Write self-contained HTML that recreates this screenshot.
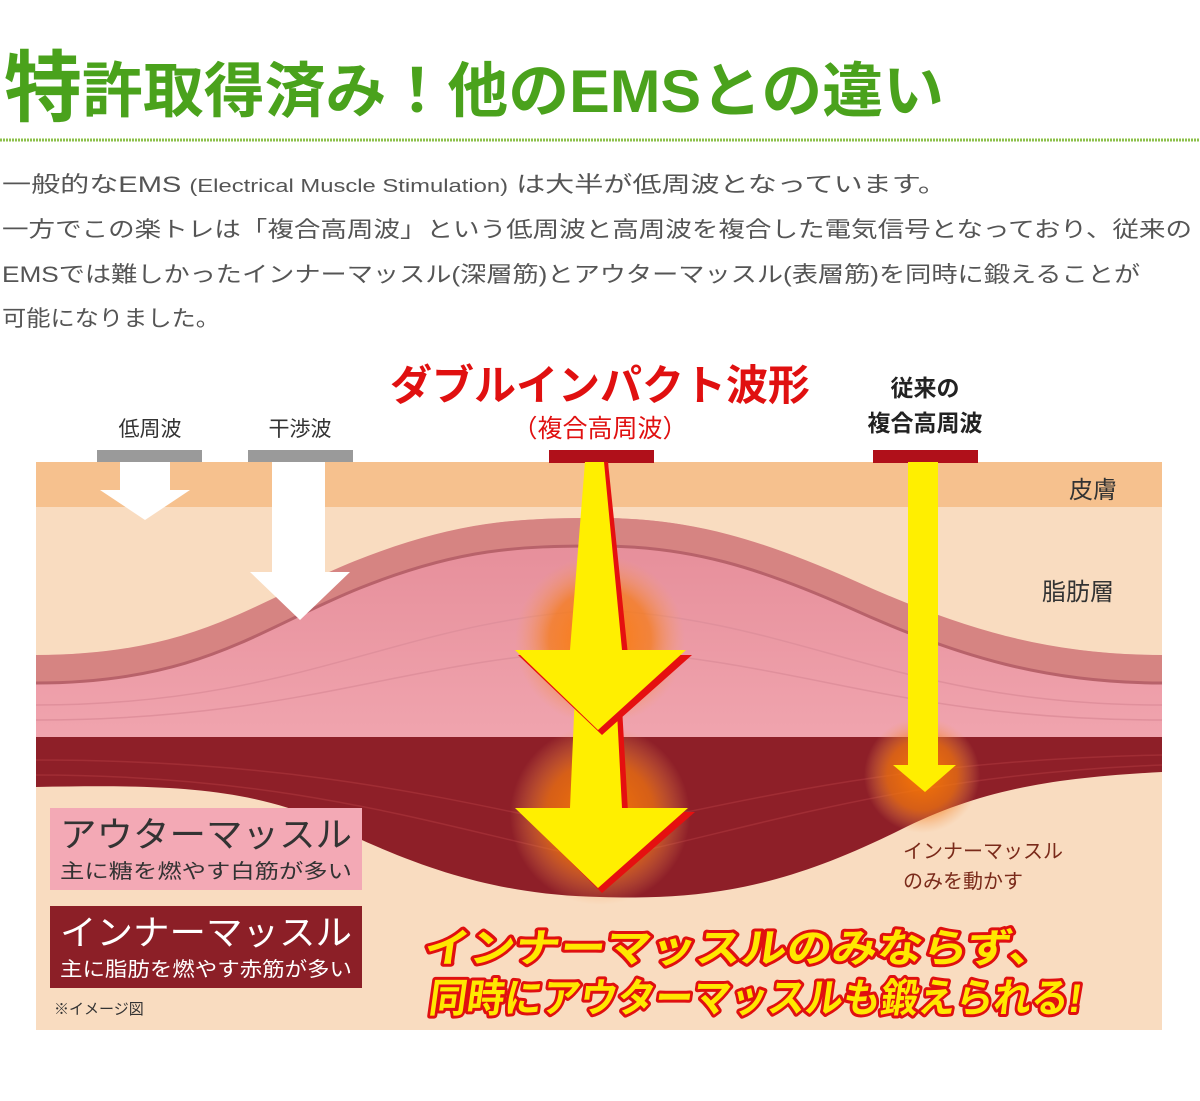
<!DOCTYPE html>
<html><head><meta charset="utf-8"><style>
body{margin:0;background:#fff;width:1200px;height:1096px;overflow:hidden}
svg text{font-family:"Liberation Sans","Noto Sans CJK JP",sans-serif}
</style></head><body>
<svg width="1200" height="1096" viewBox="0 0 1200 1096" xmlns="http://www.w3.org/2000/svg">
<defs>
<radialGradient id="g"><stop offset="0" stop-color="#ff7a00" stop-opacity=".95"/><stop offset=".6" stop-color="#f57a10" stop-opacity=".7"/><stop offset="1" stop-color="#f5a060" stop-opacity="0"/></radialGradient>
<linearGradient id="pk" x1="0" y1="0" x2="0" y2="1"><stop offset="0" stop-color="#e58c98"/><stop offset="1" stop-color="#f0a4ae"/></linearGradient>
</defs>
<!-- title -->
<text x="4" y="115" font-size="78" font-weight="bold" fill="#4aa21c">特</text>
<text x="82" y="112" font-size="60" font-weight="bold" fill="#4aa21c" textLength="862" lengthAdjust="spacingAndGlyphs">許取得済み！他のEMSとの違い</text>
<line x1="0" y1="140" x2="1200" y2="140" stroke="#8cc04a" stroke-width="3" stroke-dasharray="2 1"/>
<g font-size="22" fill="#555">
<text x="2" y="192" textLength="945" lengthAdjust="spacingAndGlyphs">一般的なEMS <tspan font-size="18">(Electrical Muscle Stimulation)</tspan> は大半が低周波となっています。</text>
<text x="2" y="237" textLength="1190" lengthAdjust="spacingAndGlyphs">一方でこの楽トレは「複合高周波」という低周波と高周波を複合した電気信号となっており、従来の</text>
<text x="2" y="282" textLength="1138" lengthAdjust="spacingAndGlyphs">EMSでは難しかったインナーマッスル(深層筋)とアウターマッスル(表層筋)を同時に鍛えることが</text>
<text x="2" y="326" textLength="218" lengthAdjust="spacingAndGlyphs">可能になりました。</text>
</g>
<!-- diagram -->
<rect x="36" y="462" width="1126" height="568" fill="#f9dcc0"/>
<rect x="36" y="462" width="1126" height="45" fill="#f6c18e"/>
<path d="M36 737 L1162 737 L1162 772 C1050 778 980 790 900 830 C780 890 700 900 600 897 C500 895 420 870 320 820 C240 785 150 785 36 787 Z" fill="#8e1f28"/>
<g stroke="#a8333a" stroke-width="1.5" fill="none" opacity=".7">
<path d="M36 760 C300 760 450 800 600 830 C750 800 900 760 1162 755"/>
<path d="M36 775 C300 775 450 830 600 860 C750 830 900 775 1162 765"/>
</g>
<path d="M36 655 C200 655 260 600 360 560 C460 520 520 518 600 518 C690 518 760 540 850 580 C960 630 1050 655 1162 655 L1162 737 L36 737 Z" fill="url(#pk)"/>
<path d="M36 655 C200 655 260 600 360 560 C460 520 520 518 600 518 C690 518 760 540 850 580 C960 630 1050 655 1162 655" fill="none" stroke="#d68482" stroke-width="28" transform="translate(0,14)"/>
<path d="M36 683 C200 683 260 628 360 588 C460 548 520 546 600 546 C690 546 760 568 850 608 C960 658 1050 683 1162 683" fill="none" stroke="#b8626a" stroke-width="3"/>
<g stroke="#e0909c" stroke-width="1.5" fill="none">
<path d="M36 705 C300 705 400 620 600 610 C800 620 900 705 1162 705"/>
<path d="M36 720 C300 720 400 660 600 650 C800 660 900 720 1162 720"/>
</g>
<circle cx="600" cy="640" r="85" fill="url(#g)"/>
<circle cx="600" cy="815" r="90" fill="url(#g)"/>
<circle cx="922" cy="775" r="58" fill="url(#g)"/>
<rect x="97" y="450" width="105" height="12" fill="#9a9a9a"/>
<rect x="248" y="450" width="105" height="12" fill="#9a9a9a"/>
<rect x="549" y="450" width="105" height="13" fill="#b0101a"/>
<rect x="873" y="450" width="105" height="13" fill="#b0101a"/>
<polygon points="120,462 170,462 170,490 190,490 145,520 100,490 120,490" fill="#fff"/>
<polygon points="272,462 325,462 325,572 350,572 300,620 250,572 272,572" fill="#fff"/>
<polygon points="588,462 608,462 628,812 695,812 602,893 520,812 572,812" fill="#e51010"/>
<polygon points="585,462 604,462 622,808 688,808 598,888 515,808 570,808" fill="#ffef00"/>
<polygon points="588,462 608,462 628,655 692,655 602,735 518,655 574,655" fill="#e51010"/>
<polygon points="585,462 604,462 622,650 686,650 598,730 515,650 570,650" fill="#ffef00"/>
<polygon points="908,462 938,462 938,765 956,765 925,792 893,765 908,765" fill="#ffef00"/>
<g font-size="21" fill="#333" text-anchor="middle">
<text x="150" y="436">低周波</text><text x="300" y="436">干渉波</text>
</g>
<text x="600" y="400" font-size="42" font-weight="bold" fill="#e01010" text-anchor="middle">ダブルインパクト波形</text>
<text x="600" y="437" font-size="25" fill="#e01010" text-anchor="middle">（複合高周波）</text>
<g font-size="23" font-weight="bold" fill="#222" text-anchor="middle">
<text x="925" y="396">従来の</text><text x="925" y="431">複合高周波</text>
</g>
<text x="1093" y="498" font-size="24" fill="#333" text-anchor="middle">皮膚</text>
<text x="1078" y="600" font-size="24" fill="#333" text-anchor="middle">脂肪層</text>
<g font-size="20" fill="#7a2a1a"><text x="903" y="858">インナーマッスル</text><text x="903" y="888">のみを動かす</text></g>
<rect x="50" y="808" width="312" height="82" fill="#f3a9b5"/>
<text x="60" y="847" font-size="35" fill="#333" textLength="292" lengthAdjust="spacingAndGlyphs">アウターマッスル</text>
<text x="60" y="878" font-size="20" fill="#333" textLength="292" lengthAdjust="spacingAndGlyphs">主に糖を燃やす白筋が多い</text>
<rect x="50" y="906" width="312" height="82" fill="#8c1f27"/>
<text x="60" y="945" font-size="35" fill="#fff" textLength="292" lengthAdjust="spacingAndGlyphs">インナーマッスル</text>
<text x="60" y="976" font-size="20" fill="#fff" textLength="292" lengthAdjust="spacingAndGlyphs">主に脂肪を燃やす赤筋が多い</text>
<text x="54" y="1014" font-size="15" fill="#333">※イメージ図</text>
<g font-size="40" font-weight="bold" fill="#ffe800" stroke="#e01010" stroke-width="6" paint-order="stroke" stroke-linejoin="round" transform="skewX(-8)">
<text x="558" y="962" textLength="630" lengthAdjust="spacingAndGlyphs">インナーマッスルのみならず、</text>
<text x="570" y="1012" textLength="652" lengthAdjust="spacingAndGlyphs">同時にアウターマッスルも鍛えられる!</text>
</g>
</svg>
</body></html>
